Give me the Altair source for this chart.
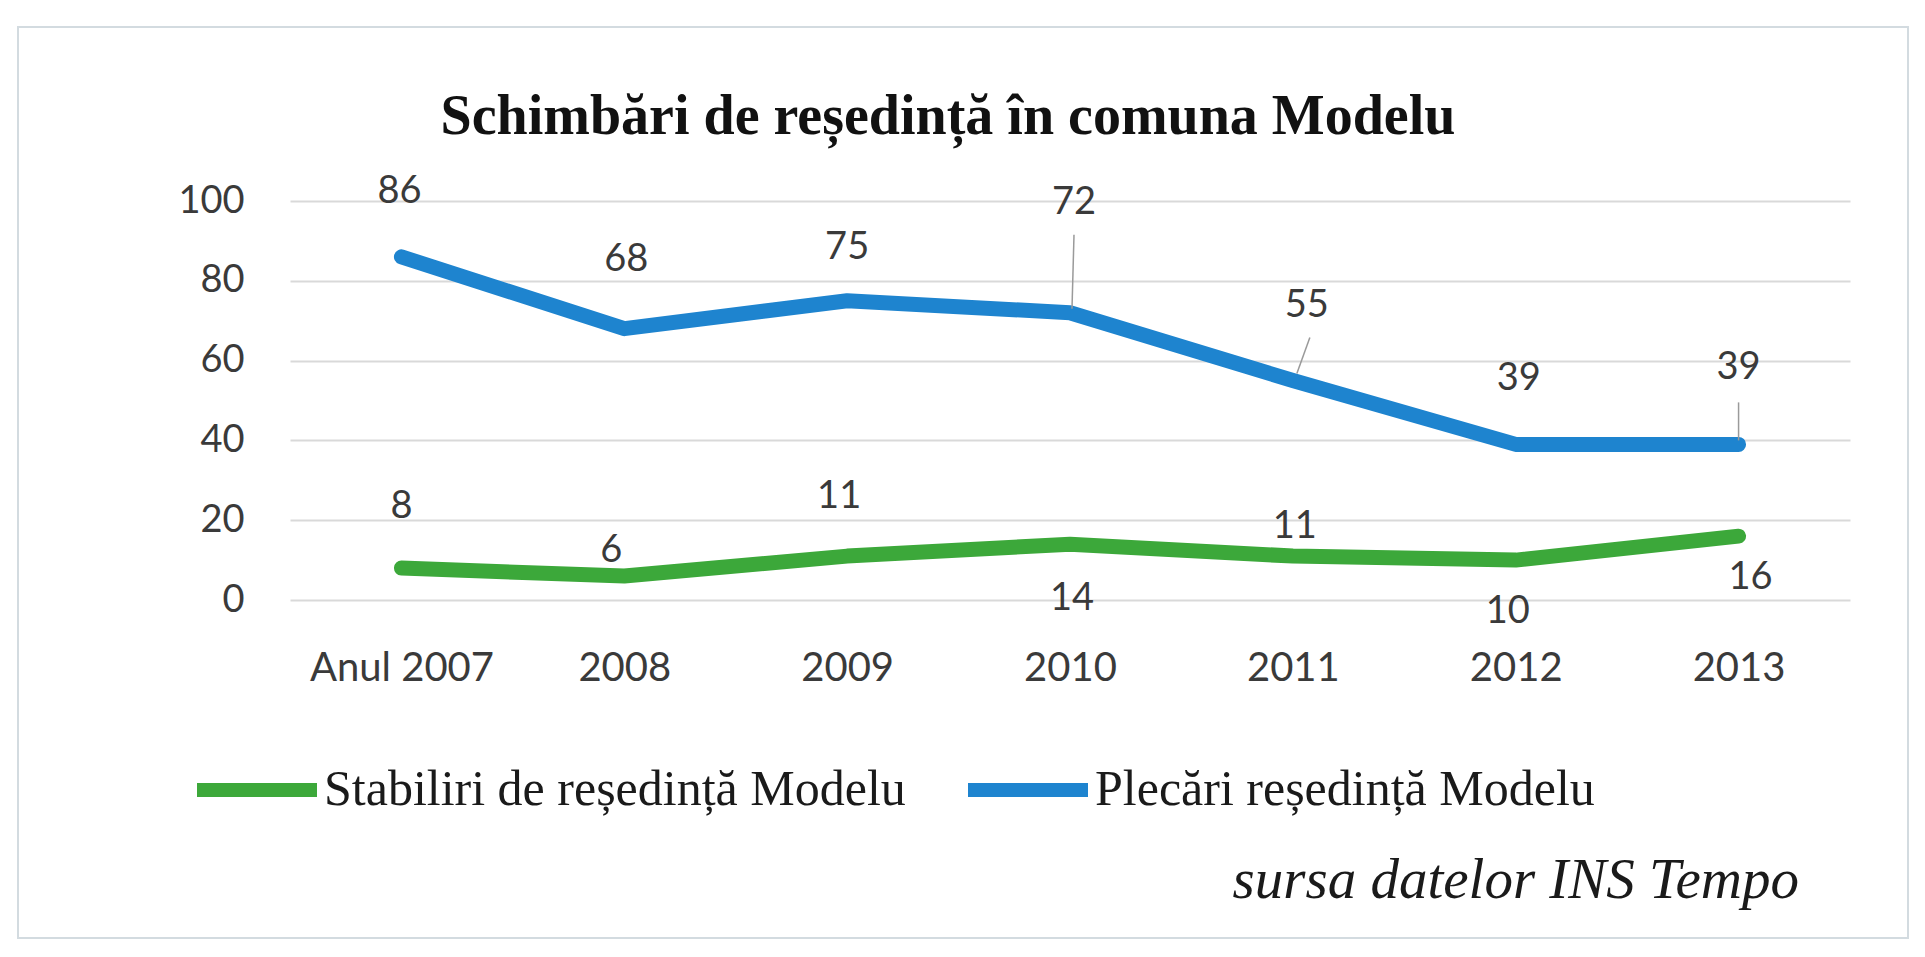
import altair as alt
import pandas as pd

# ---------------- data ----------------
years = ["Anul 2007", "2008", "2009", "2010", "2011", "2012", "2013"]
stabiliri = [8, 6, 11, 14, 11, 10, 16]
plecari = [86, 68, 75, 72, 55, 39, 39]
series_names = ["Stabiliri de reședință Modelu", "Plecări reședință Modelu"]
y_ticks = [0, 20, 40, 60, 80, 100]
title_text = "Schimbări de reședință în comuna Modelu"
source_text = "sursa datelor INS Tempo"

# ---------------- styling ----------------
colors = ["#3ca83a", "#1e84cf"]
# pixel offsets of each value label from its point (styling only)
stab_label_dx = [0, -13, -8, 2, 2, -8, 12]
stab_label_dy = [-61, -25, -59, 55, -29, 52, 42]
plec_label_dx = [-2, 2, 0, 4, 14, 3, 0]
plec_label_dy = [-65, -69, -53, -110, -75, -65, -76]
# leader lines: (series index, year index, x1, y1, x2, y2 offsets in px)
leaders = [(1, 3, 4, -78, 2, -4), (1, 4, 17, -43, 4, -7), (1, 6, 0, -42, 0, -4)]

SANS = "Lato"
SERIF = "Liberation Serif"
W, H = 1560, 399

rows = []
for name, vals in zip(series_names, [stabiliri, plecari]):
    for yr, v in zip(years, vals):
        rows.append({"year": yr, "series": name, "value": v})
df = pd.DataFrame(rows)

x_enc = alt.X("year:N", sort=years,
              scale=alt.Scale(type="point", padding=0.5),
              axis=alt.Axis(title=None, domain=False, ticks=False, grid=False,
                            labelAngle=0, labelFont=SANS, labelFontSize=40,
                            labelColor="#3a3a3a", labelPadding=48, labelLimit=1000))
y_enc = alt.Y("value:Q", scale=alt.Scale(domain=[0, 100], nice=False),
              axis=alt.Axis(title=None, values=y_ticks, domain=False, ticks=False,
                            labelFont=SANS, labelFontSize=38, labelColor="#3a3a3a",
                            labelPadding=46, gridColor="#d9d9d9", gridWidth=2))

base = alt.Chart(df)

frame = alt.Chart(pd.DataFrame({"k": [0]})).mark_rect(
    fill="transparent", stroke="#d3dbe0", strokeWidth=2
).encode(x=alt.value(-272), x2=alt.value(1618), y=alt.value(-174), y2=alt.value(737))

title = alt.Chart(pd.DataFrame({"t": [title_text]})).mark_text(
    font=SERIF, fontSize=56, fontWeight="bold", color="#111111",
    align="center", baseline="alphabetic"
).encode(x=alt.value(658), y=alt.value(-67), text="t:N")

lines = base.mark_line(strokeWidth=15, strokeCap="round", strokeJoin="round").encode(
    x=x_enc, y=y_enc,
    color=alt.Color("series:N",
                    scale=alt.Scale(domain=series_names, range=colors),
                    legend=alt.Legend(title=None, orient="none", legendX=-100, legendY=522,
                                      direction="horizontal", symbolType="stroke",
                                      symbolSize=14400, symbolStrokeWidth=14,
                                      labelFont=SERIF, labelFontSize=50,
                                      labelColor="#1a1a1a", labelOffset=0,
                                      columnPadding=34, labelLimit=2000)),
)

layers = [frame, title, lines]

for s_i, (name, dxs, dys) in enumerate(zip(series_names,
                                           [stab_label_dx, plec_label_dx],
                                           [stab_label_dy, plec_label_dy])):
    for y_i, yr in enumerate(years):
        layers.append(
            base.transform_filter(
                (alt.datum.series == name) & (alt.datum.year == yr)
            ).mark_text(font=SANS, fontSize=38, color="#3a3a3a", align="center",
                        baseline="middle", dx=dxs[y_i], dy=dys[y_i]).encode(
                x=alt.X("year:N", sort=years), y=alt.Y("value:Q"), text=alt.Text("value:Q"))
        )

for s_i, y_i, x1, y1, x2, y2 in leaders:
    layers.append(
        base.transform_filter(
            (alt.datum.series == series_names[s_i]) & (alt.datum.year == years[y_i])
        ).mark_rule(color="#9a9a9a", strokeWidth=1.5, xOffset=x1, yOffset=y1,
                    x2Offset=x2, y2Offset=y2).encode(
            x=alt.X("year:N", sort=years), x2=alt.X2("year:N"),
            y=alt.Y("value:Q"), y2=alt.Y2("value:Q"))
    )

source = alt.Chart(pd.DataFrame({"t": [source_text]})).mark_text(
    font=SERIF, fontSize=57, fontStyle="italic", color="#1a1a1a",
    align="right", baseline="alphabetic"
).encode(x=alt.value(1509), y=alt.value(697), text="t:N")
layers.append(source)

chart = alt.layer(*layers).properties(
    width=W, height=H,
    autosize=alt.AutoSizeParams(type="none"),
    padding={"left": 282, "top": 193, "right": 62, "bottom": 340},
).configure(background="white").configure_view(stroke=None)

chart.save("out.html", embed_options={"renderer": "svg", "actions": False})
